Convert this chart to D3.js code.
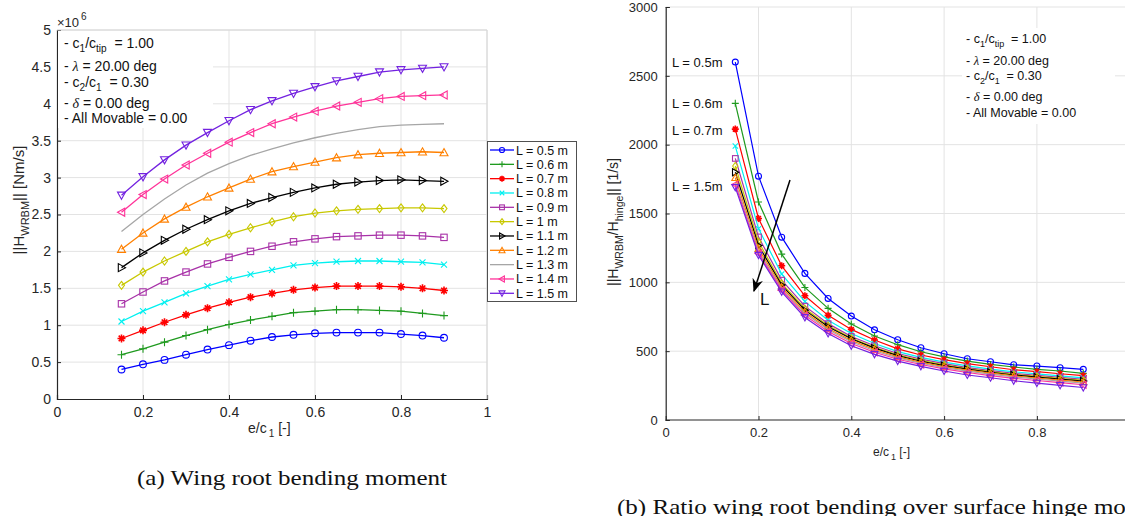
<!DOCTYPE html>
<html>
<head>
<meta charset="utf-8">
<script src="https://cdn.jsdelivr.net/npm/d3@7"></script>
<style>
  body { margin: 0; background: #fff; }
  svg { display: block; font-family: "Liberation Sans", Arial, sans-serif; }
</style>
</head>
<body>
<svg id="fig" width="1125" height="516"></svg>
<script>
// e/c1 values
var ecValues = [0.15, 0.2, 0.25, 0.3, 0.35, 0.4, 0.45, 0.5, 0.55, 0.6, 0.65, 0.7, 0.75, 0.8, 0.85, 0.9];
var spanLabels = ["L = 0.5 m", "L = 0.6 m", "L = 0.7 m", "L = 0.8 m", "L = 0.9 m", "L = 1 m",
                  "L = 1.1 m", "L = 1.2 m", "L = 1.3 m", "L = 1.4 m", "L = 1.5 m"];
var seriesColors = ["#0000ff", "#1f9a1f", "#ff0000", "#00f0f0", "#a832a8", "#c8c800",
                    "#000000", "#ff8000", "#a6a6a6", "#ff3399", "#7322e0"];
var seriesMarkers = ["circle", "plus", "star", "cross", "square", "diamond",
                     "triRight", "triUp", "none", "triLeft", "triDown"];

// ||H_WRBM|| in units of 1e6 Nm/s
var wrbm = [
  [0.40, 0.47, 0.53, 0.60, 0.67, 0.73, 0.79, 0.84, 0.87, 0.89, 0.90, 0.90, 0.90, 0.88, 0.86, 0.83],
  [0.60, 0.68, 0.77, 0.86, 0.94, 1.01, 1.07, 1.12, 1.17, 1.19, 1.21, 1.21, 1.20, 1.19, 1.16, 1.13],
  [0.82, 0.93, 1.04, 1.14, 1.23, 1.31, 1.38, 1.43, 1.48, 1.51, 1.53, 1.53, 1.53, 1.52, 1.50, 1.47],
  [1.05, 1.19, 1.31, 1.43, 1.53, 1.62, 1.69, 1.75, 1.81, 1.84, 1.86, 1.87, 1.87, 1.86, 1.85, 1.82],
  [1.29, 1.45, 1.60, 1.72, 1.83, 1.92, 2.00, 2.07, 2.13, 2.17, 2.20, 2.21, 2.22, 2.22, 2.21, 2.19],
  [1.54, 1.72, 1.87, 2.00, 2.13, 2.23, 2.32, 2.40, 2.47, 2.52, 2.55, 2.57, 2.58, 2.59, 2.59, 2.58],
  [1.78, 1.98, 2.15, 2.30, 2.43, 2.55, 2.65, 2.73, 2.80, 2.86, 2.91, 2.94, 2.96, 2.97, 2.96, 2.95],
  [2.03, 2.25, 2.44, 2.60, 2.74, 2.86, 2.98, 3.08, 3.15, 3.21, 3.27, 3.31, 3.33, 3.34, 3.35, 3.34],
  [2.27, 2.50, 2.71, 2.90, 3.06, 3.19, 3.30, 3.39, 3.47, 3.54, 3.60, 3.65, 3.69, 3.71, 3.72, 3.73],
  [2.53, 2.77, 2.98, 3.17, 3.33, 3.48, 3.61, 3.73, 3.82, 3.90, 3.97, 4.02, 4.07, 4.10, 4.11, 4.12],
  [2.76, 3.01, 3.24, 3.44, 3.61, 3.77, 3.92, 4.04, 4.14, 4.23, 4.31, 4.37, 4.43, 4.46, 4.48, 4.50]
];

// ||H_WRBM / H_hinge|| [1/s]
var ratio = [
  [2600, 1771, 1328, 1065, 883, 755, 655, 583, 525, 481, 445, 423, 401, 392, 380, 368],
  [2300, 1584, 1205, 963, 811, 697, 610, 547, 496, 459, 428, 404, 385, 368, 356, 339],
  [2113, 1464, 1120, 902, 760, 658, 581, 517, 472, 438, 409, 387, 365, 351, 336, 322],
  [1990, 1390, 1060, 860, 725, 628, 556, 497, 455, 420, 393, 370, 350, 335, 320, 306],
  [1900, 1330, 1016, 827, 700, 607, 539, 483, 442, 409, 381, 359, 339, 324, 309, 295],
  [1845, 1295, 993, 810, 686, 595, 528, 474, 433, 401, 374, 352, 332, 317, 302, 288],
  [1800, 1268, 980, 798, 678, 590, 522, 468, 427, 395, 369, 347, 327, 312, 297, 283],
  [1760, 1245, 965, 785, 665, 578, 512, 459, 419, 388, 362, 340, 320, 305, 290, 276],
  [1730, 1225, 953, 773, 655, 568, 503, 451, 412, 381, 355, 333, 313, 298, 283, 268],
  [1710, 1210, 943, 760, 643, 556, 492, 441, 403, 372, 345, 323, 303, 287, 272, 256],
  [1690, 1197, 931, 745, 629, 539, 477, 428, 390, 356, 327, 307, 285, 268, 252, 236]
];

var leftYTicks = [0, 0.5, 1, 1.5, 2, 2.5, 3, 3.5, 4, 4.5, 5];
var leftXTicks = [0, 0.2, 0.4, 0.6, 0.8, 1];
var rightYTicks = [0, 500, 1000, 1500, 2000, 2500, 3000];
var rightXTicks = [0, 0.2, 0.4, 0.6, 0.8];
var rightLabels = [{text: "L = 0.5m", v: 2600}, {text: "L = 0.6m", v: 2300},
                   {text: "L = 0.7m", v: 2110}, {text: "L = 1.5m", v: 1700}];

var svg = d3.select("#fig");
var axisColor = "#262626";
var gridColor = "#e3e3e3";

function marker(g, type, cx, cy, s, color) {
  var h = s / 2;
  if (type == "none") return;
  if (type == "circle") {
    g.append("circle").attr("cx", cx).attr("cy", cy).attr("r", h * 0.85)
      .attr("fill", "none").attr("stroke", color).attr("stroke-width", 1.1);
  } else if (type == "plus") {
    g.append("path").attr("d", "M" + (cx - h) + "," + cy + "H" + (cx + h) + "M" + cx + "," + (cy - h) + "V" + (cy + h))
      .attr("stroke", color).attr("stroke-width", 1.1);
  } else if (type == "cross") {
    var k = h * 0.75;
    g.append("path").attr("d", "M" + (cx - k) + "," + (cy - k) + "L" + (cx + k) + "," + (cy + k) + "M" + (cx - k) + "," + (cy + k) + "L" + (cx + k) + "," + (cy - k))
      .attr("stroke", color).attr("stroke-width", 1.1);
  } else if (type == "star") {
    var k2 = h * 0.7;
    g.append("path").attr("d", "M" + (cx - h) + "," + cy + "H" + (cx + h) + "M" + cx + "," + (cy - h) + "V" + (cy + h) +
        "M" + (cx - k2) + "," + (cy - k2) + "L" + (cx + k2) + "," + (cy + k2) + "M" + (cx - k2) + "," + (cy + k2) + "L" + (cx + k2) + "," + (cy - k2))
      .attr("stroke", color).attr("stroke-width", 1.6);
  } else if (type == "square") {
    var q = h * 0.8;
    g.append("rect").attr("x", cx - q).attr("y", cy - q).attr("width", 2 * q).attr("height", 2 * q)
      .attr("fill", "none").attr("stroke", color).attr("stroke-width", 1.1);
  } else if (type == "diamond") {
    g.append("path").attr("d", "M" + cx + "," + (cy - h) + "L" + (cx + h * 0.75) + "," + cy + "L" + cx + "," + (cy + h) + "L" + (cx - h * 0.75) + "," + cy + "Z")
      .attr("fill", "none").attr("stroke", color).attr("stroke-width", 1.1);
  } else {
    var pts;
    if (type == "triUp") pts = [[0, -h], [h, h * 0.8], [-h, h * 0.8]];
    if (type == "triDown") pts = [[0, h], [h, -h * 0.8], [-h, -h * 0.8]];
    if (type == "triLeft") pts = [[-h, 0], [h * 0.8, -h], [h * 0.8, h]];
    if (type == "triRight") pts = [[h, 0], [-h * 0.8, -h], [-h * 0.8, h]];
    g.append("path").attr("d", "M" + pts.map(function(p) { return (cx + p[0]) + "," + (cy + p[1]); }).join("L") + "Z")
      .attr("fill", "none").attr("stroke", color).attr("stroke-width", 1.1);
  }
}

function drawParams(x, y, lh, size) {
  var t = svg.append("g").attr("font-size", size).attr("fill", "#111");
  var rows = [
    [["- c", 0], ["1", 1], ["/c", 0], ["tip", 1], ["  = 1.00", 0]],
    [["- ", 0], ["λ", 2], [" = 20.00 deg", 0]],
    [["- c", 0], ["2", 1], ["/c", 0], ["1", 1], ["  = 0.30", 0]],
    [["- ", 0], ["δ", 2], [" = 0.00 deg", 0]],
    [["- All Movable = 0.00", 0]]
  ];
  rows.forEach(function(r, i) {
    var txt = t.append("text").attr("x", x).attr("y", y + lh[i]).attr("xml:space", "preserve");
    var down = false;
    r.forEach(function(p) {
      var sp = txt.append("tspan").text(p[0]);
      if (p[1] == 1) {
        sp.attr("font-size", size * 0.72).attr("dy", down ? 0 : 4);
        down = true;
      } else {
        if (down) sp.attr("dy", -4);
        down = false;
        if (p[1] == 2) sp.attr("font-family", "Liberation Serif, serif").attr("font-style", "italic");
      }
    });
  });
}

// ---------------- left chart ----------------
var xL = d3.scaleLinear().domain([0, 1]).range([57, 487]);
var yL = d3.scaleLinear().domain([0, 5]).range([399, 30]);

var gL = svg.append("g");
gL.selectAll(".gy").data(leftYTicks.slice(1)).enter().append("line")
  .attr("x1", xL(0)).attr("x2", xL(1)).attr("y1", yL).attr("y2", yL)
  .attr("stroke", gridColor);
gL.selectAll(".gx").data(leftXTicks.slice(1)).enter().append("line")
  .attr("x1", xL).attr("x2", xL).attr("y1", yL(0)).attr("y2", yL(5))
  .attr("stroke", gridColor);

// annotation box (white background hides grid)
svg.append("rect").attr("x", 58).attr("y", 31).attr("width", 155).attr("height", 97).attr("fill", "#fff");
drawParams(64, 48, [0, 23, 39, 60, 75], 14);

var lineL = d3.line().x(function(d, i) { return xL(ecValues[i]); }).y(function(d) { return yL(d); });
wrbm.forEach(function(s, k) {
  var g = gL.append("g");
  g.append("path").attr("d", lineL(s)).attr("fill", "none")
    .attr("stroke", seriesColors[k]).attr("stroke-width", 1.3);
  s.forEach(function(v, i) { marker(g, seriesMarkers[k], xL(ecValues[i]), yL(v), 8, seriesColors[k]); });
});

// axes
var axL = gL.append("g").attr("transform", "translate(0," + yL(0) + ")")
  .call(d3.axisBottom(xL).tickValues(leftXTicks).tickSize(-4).tickPadding(8).tickFormat(d3.format("")));
var ayL = gL.append("g").attr("transform", "translate(" + xL(0) + ",0)")
  .call(d3.axisLeft(yL).tickValues(leftYTicks).tickSize(-4).tickPadding(6).tickFormat(d3.format("")));
[axL, ayL].forEach(function(a) {
  a.select(".domain").attr("stroke", axisColor).attr("stroke-width", 1.2);
  a.selectAll(".tick line").attr("stroke", axisColor);
  a.selectAll("text").attr("font-size", 14).attr("fill", axisColor).attr("font-family", "Liberation Sans, Arial, sans-serif");
});
gL.append("line").attr("x1", xL(0)).attr("x2", xL(1)).attr("y1", yL(5)).attr("y2", yL(5)).attr("stroke", "#d6d6d6");
gL.append("line").attr("x1", xL(1)).attr("x2", xL(1)).attr("y1", yL(5)).attr("y2", yL(0)).attr("stroke", "#d6d6d6");

// x10^6
var ex = svg.append("text").attr("x", 57).attr("y", 27).attr("font-size", 13).attr("fill", axisColor);
ex.append("tspan").text("×10");
ex.append("tspan").text("6").attr("font-size", 10).attr("dy", -7).attr("dx", 2);

// axis labels
var xlabL = svg.append("text").attr("x", 248).attr("y", 433).attr("font-size", 14).attr("fill", axisColor);
xlabL.append("tspan").text("e/c");
xlabL.append("tspan").text("1").attr("font-size", 10).attr("dy", 4).attr("dx", 2);
xlabL.append("tspan").text(" [-]").attr("dy", -4).attr("xml:space", "preserve");

var ylabL = svg.append("text").attr("transform", "translate(24,200) rotate(-90)")
  .attr("text-anchor", "middle").attr("font-size", 15).attr("fill", axisColor).attr("xml:space", "preserve");
ylabL.append("tspan").text("||H");
ylabL.append("tspan").text("WRBM").attr("font-size", 11).attr("dy", 5);
ylabL.append("tspan").text("|| [Nm/s]").attr("dy", -5);

// legend
var leg = svg.append("g");
leg.append("rect").attr("x", 487.5).attr("y", 141.5).attr("width", 89).attr("height", 160)
  .attr("fill", "#fff").attr("stroke", "#505050").attr("stroke-width", 1);
spanLabels.forEach(function(lab, k) {
  var cy = 150 + k * 14.33;
  leg.append("line").attr("x1", 490).attr("x2", 514).attr("y1", cy).attr("y2", cy)
    .attr("stroke", seriesColors[k]).attr("stroke-width", 1.3);
  marker(leg, seriesMarkers[k], 502, cy, 6, seriesColors[k]);
  leg.append("text").attr("x", 516).attr("y", cy + 4.5).attr("font-size", 12.5).attr("fill", "#111").text(lab);
});

// ---------------- right chart ----------------
var xR = d3.scaleLinear().domain([0, 1]).range([665.7, 1129.7]);
var yR = d3.scaleLinear().domain([0, 3000]).range([420, 7]);
var gR = svg.append("g");
gR.selectAll(".gy").data(rightYTicks.slice(1)).enter().append("line")
  .attr("x1", xR(0)).attr("x2", 1125).attr("y1", yR).attr("y2", yR).attr("stroke", gridColor);
gR.selectAll(".gx").data(rightXTicks.slice(1)).enter().append("line")
  .attr("x1", xR).attr("x2", xR).attr("y1", yR(0)).attr("y2", yR(3000)).attr("stroke", gridColor);

svg.append("rect").attr("x", 962).attr("y", 28).attr("width", 153).attr("height", 96).attr("fill", "#fff");
drawParams(966, 43, [0, 22, 37, 58, 74], 12.5);

var lineR = d3.line().x(function(d, i) { return xR(ecValues[i]); }).y(function(d) { return yR(d); });
ratio.forEach(function(s, k) {
  var g = gR.append("g");
  g.append("path").attr("d", lineR(s)).attr("fill", "none")
    .attr("stroke", seriesColors[k]).attr("stroke-width", 1.2);
  s.forEach(function(v, i) { marker(g, seriesMarkers[k], xR(ecValues[i]), yR(v), 7, seriesColors[k]); });
});

var axR = gR.append("g").attr("transform", "translate(0," + yR(0) + ")")
  .call(d3.axisBottom(xR).tickValues(rightXTicks).tickSize(-4).tickPadding(8).tickFormat(d3.format("")));
axR.select(".domain").attr("d", "M" + xR(0) + ",0H1125");
var ayR = gR.append("g").attr("transform", "translate(" + xR(0) + ",0)")
  .call(d3.axisLeft(yR).tickValues(rightYTicks).tickSize(-4).tickPadding(8).tickFormat(d3.format("")));
[axR, ayR].forEach(function(a) {
  a.select(".domain").attr("stroke", axisColor).attr("stroke-width", 1.2);
  a.selectAll(".tick line").attr("stroke", axisColor);
  a.selectAll("text").attr("font-size", 13).attr("fill", axisColor).attr("font-family", "Liberation Sans, Arial, sans-serif");
});

// series labels and arrow
rightLabels.forEach(function(d) {
  svg.append("text").attr("x", 672).attr("y", yR(d.v) + 5).attr("font-size", 13).attr("fill", "#111").text(d.text);
});
svg.append("defs").append("marker").attr("id", "ah").attr("viewBox", "0 0 10 10")
  .attr("refX", 9).attr("refY", 5).attr("markerWidth", 9).attr("markerHeight", 9).attr("orient", "auto")
  .append("path").attr("d", "M0,1L10,5L0,9L3,5Z").attr("fill", "#000");
svg.append("line").attr("x1", 790).attr("y1", 180).attr("x2", 754).attr("y2", 291)
  .attr("stroke", "#000").attr("stroke-width", 1.5).attr("marker-end", "url(#ah)");
svg.append("text").attr("x", 760).attr("y", 305).attr("font-size", 17).attr("fill", "#111").text("L");

var xlabR = svg.append("text").attr("x", 873).attr("y", 456).attr("font-size", 12).attr("fill", axisColor);
xlabR.append("tspan").text("e/c");
xlabR.append("tspan").text("1").attr("font-size", 9).attr("dy", 4).attr("dx", 2);
xlabR.append("tspan").text(" [-]").attr("dy", -4).attr("xml:space", "preserve");

var ylabR = svg.append("text").attr("transform", "translate(618,222) rotate(-90)")
  .attr("text-anchor", "middle").attr("font-size", 14).attr("fill", axisColor).attr("xml:space", "preserve");
ylabR.append("tspan").text("||H");
ylabR.append("tspan").text("WRBM").attr("font-size", 10.5).attr("dy", 5);
ylabR.append("tspan").text("/H").attr("dy", -5);
ylabR.append("tspan").text("hinge").attr("font-size", 10.5).attr("dy", 5);
ylabR.append("tspan").text("|| [1/s]").attr("dy", -5);

// captions
var capA = svg.append("text").attr("x", 137).attr("y", 485).attr("font-size", 21)
  .attr("font-family", "Liberation Serif, serif").attr("fill", "#111").text("(a) Wing root bending moment");
var wA = capA.node().getComputedTextLength();
capA.attr("textLength", 310).attr("lengthAdjust", "spacingAndGlyphs");
var capB = svg.append("text").attr("x", 617).attr("y", 514).attr("font-size", 21)
  .attr("font-family", "Liberation Serif, serif").attr("fill", "#111")
  .text("(b) Ratio wing root bending over surface hinge moment");
var wB = capB.node().getComputedTextLength();
capB.attr("textLength", wB * 310 / wA).attr("lengthAdjust", "spacingAndGlyphs");
</script>
</body>
</html>
